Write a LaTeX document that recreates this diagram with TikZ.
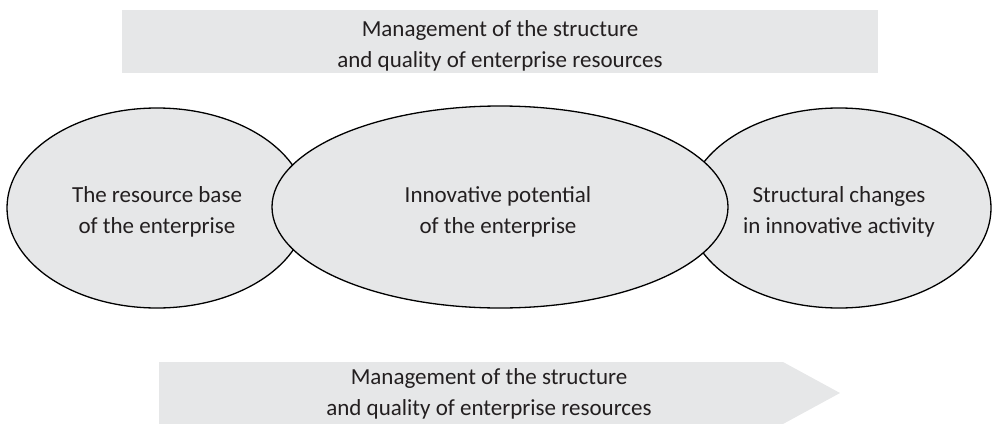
\documentclass[tikz,border=0pt]{standalone}
\usepackage{fontspec}
\setmainfont{Carlito}
\usetikzlibrary{shapes.geometric}
\definecolor{boxfill}{HTML}{E6E7E8}
\definecolor{txt}{HTML}{231F20}
\begin{document}
\begin{tikzpicture}[x=1pt,y=-1pt,
  lbl/.style={font=\fontsize{23}{31}\selectfont, text=txt, align=center},
  oval/.style={ellipse, draw=black, line width=1.3pt, fill=boxfill, inner sep=0pt}]
\useasboundingbox (0,0) rectangle (992,423);
% top rectangle
\fill[boxfill] (122,10) rectangle (878,73);
\node[lbl] (top) at (500,46) {Management of the structure\\and quality of enterprise resources};
% ellipses
\node[oval, minimum width=300pt, minimum height=200pt] (e1) at (157,208) {};
\node[oval, minimum width=304pt, minimum height=200pt] (e3) at (839,208) {};
\node[oval, minimum width=456pt, minimum height=202pt] (e2) at (500,207) {};
\node[lbl] (t1) at (157,212) {The resource base\\of the enterprise};
\node[lbl] (t2) at (498,212) {Innovative potential\\of the enterprise};
\node[lbl] (t3) at (839,212) {Structural changes\\in innovative activity};
% bottom arrow
\fill[boxfill] (159,362) -- (783,362) -- (840,393) -- (783,424) -- (159,424) -- cycle;
\node[lbl] (bot) at (489,394) {Management of the structure\\and quality of enterprise resources};
\end{tikzpicture}
\end{document}
